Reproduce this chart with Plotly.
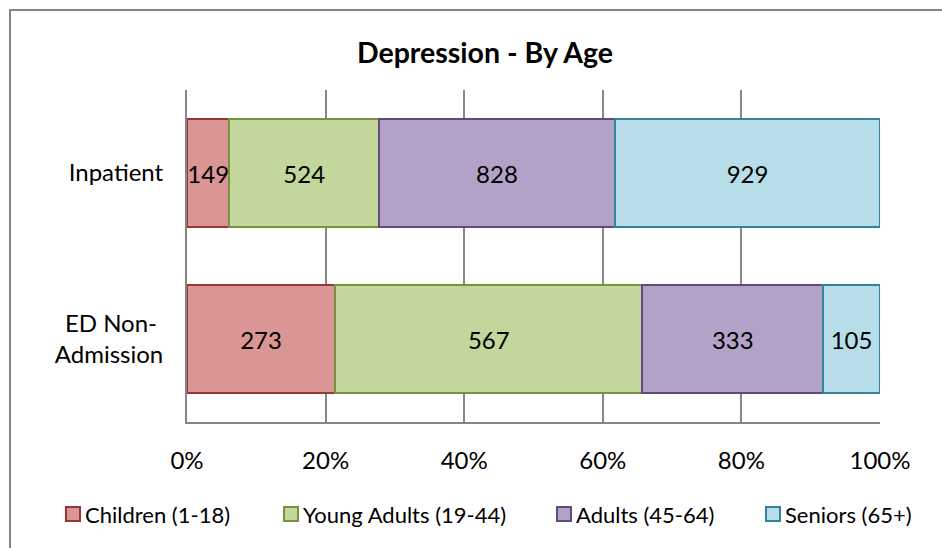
import plotly.graph_objects as go

# Patient counts by age group for each care setting
settings = ["ED Non-Admission", "Inpatient"]
setting_labels = ["ED Non-&nbsp;<br>Admission", "Inpatient"]
age_groups = ["Children (1-18)", "Young Adults (19-44)", "Adults (45-64)", "Seniors (65+)"]
children = [273, 149]
young_adults = [567, 524]
adults = [333, 828]
seniors = [105, 929]
x_ticks = [0, 20, 40, 60, 80, 100]
x_tick_text = ["0%", "20%", "40%", "60%", "80%", "100%"]

fills = ["#D99694", "#C3D69B", "#B3A2C7", "#B7DEE8"]
edges = ["#953735", "#77933C", "#604A7B", "#31859C"]

FONT = "Lato"
W, H = 942, 548
L, R, T, B = 187, 62, 90, 126
PW, PH = W - L - R, H - T - B


def px(v):
    """Pixel column -> paper x."""
    return (v - L) / PW


def py(v):
    """Pixel row -> paper y."""
    return (H - B - v) / PH


fig = go.Figure()
for name, vals, fc, ec in zip(age_groups, [children, young_adults, adults, seniors], fills, edges):
    fig.add_trace(go.Bar(
        y=settings, x=vals, name=name, orientation="h",
        marker=dict(color=fc, line=dict(color=ec, width=2)),
        text=[str(v) for v in vals], textposition="inside", insidetextanchor="middle",
        textangle=0,
        textfont=dict(family=FONT, size=24, color="black"),
        constraintext="none", showlegend=False,
    ))

fig.update_layout(
    width=W, height=H,
    barmode="stack", barnorm="percent", bargap=0.35,
    paper_bgcolor="white", plot_bgcolor="white",
    margin=dict(l=L, r=R, t=T, b=B, autoexpand=False),
    font=dict(family=FONT, size=24, color="black"),
    title=dict(text="<b>Depression - By Age</b>", x=485 / W, xanchor="center",
               y=1 - 53 / H, yanchor="middle", font=dict(family=FONT, size=28.5)),
    showlegend=False,
)
fig.update_xaxes(
    range=[0, 100], tickvals=x_ticks, ticktext=x_tick_text,
    showgrid=True, gridcolor="#868686", gridwidth=2,
    showline=True, linecolor="#868686", linewidth=2,
    ticks="", ticklabelstandoff=16, zeroline=False,
)
fig.update_yaxes(
    categoryorder="array", categoryarray=settings,
    tickvals=settings, ticktext=setting_labels,
    showline=True, linecolor="#868686", linewidth=2,
    ticks="", ticklabelstandoff=17, showgrid=False,
)

# Outer chart border (right and bottom edges run off the canvas)
fig.add_shape(type="rect", xref="paper", yref="paper",
              x0=px(10), x1=px(W + 30), y0=py(H + 30), y1=py(10),
              line=dict(color="#868686", width=2), fillcolor="rgba(0,0,0,0)", layer="below")

# Legend row below the axis
legend_left = [66, 284, 557, 766]
legend_y = 514
for name, fc, ec, lx in zip(age_groups, fills, edges, legend_left):
    fig.add_shape(type="rect", xref="paper", yref="paper",
                  x0=px(lx), x1=px(lx + 14), y0=py(legend_y + 7), y1=py(legend_y - 7),
                  line=dict(color=ec, width=2), fillcolor=fc)
    fig.add_annotation(xref="paper", yref="paper", x=px(lx + 17), y=py(legend_y),
                       xanchor="left", yanchor="middle", showarrow=False,
                       text=name, font=dict(family=FONT, size=22, color="black"))

fig.write_html("out.html")
